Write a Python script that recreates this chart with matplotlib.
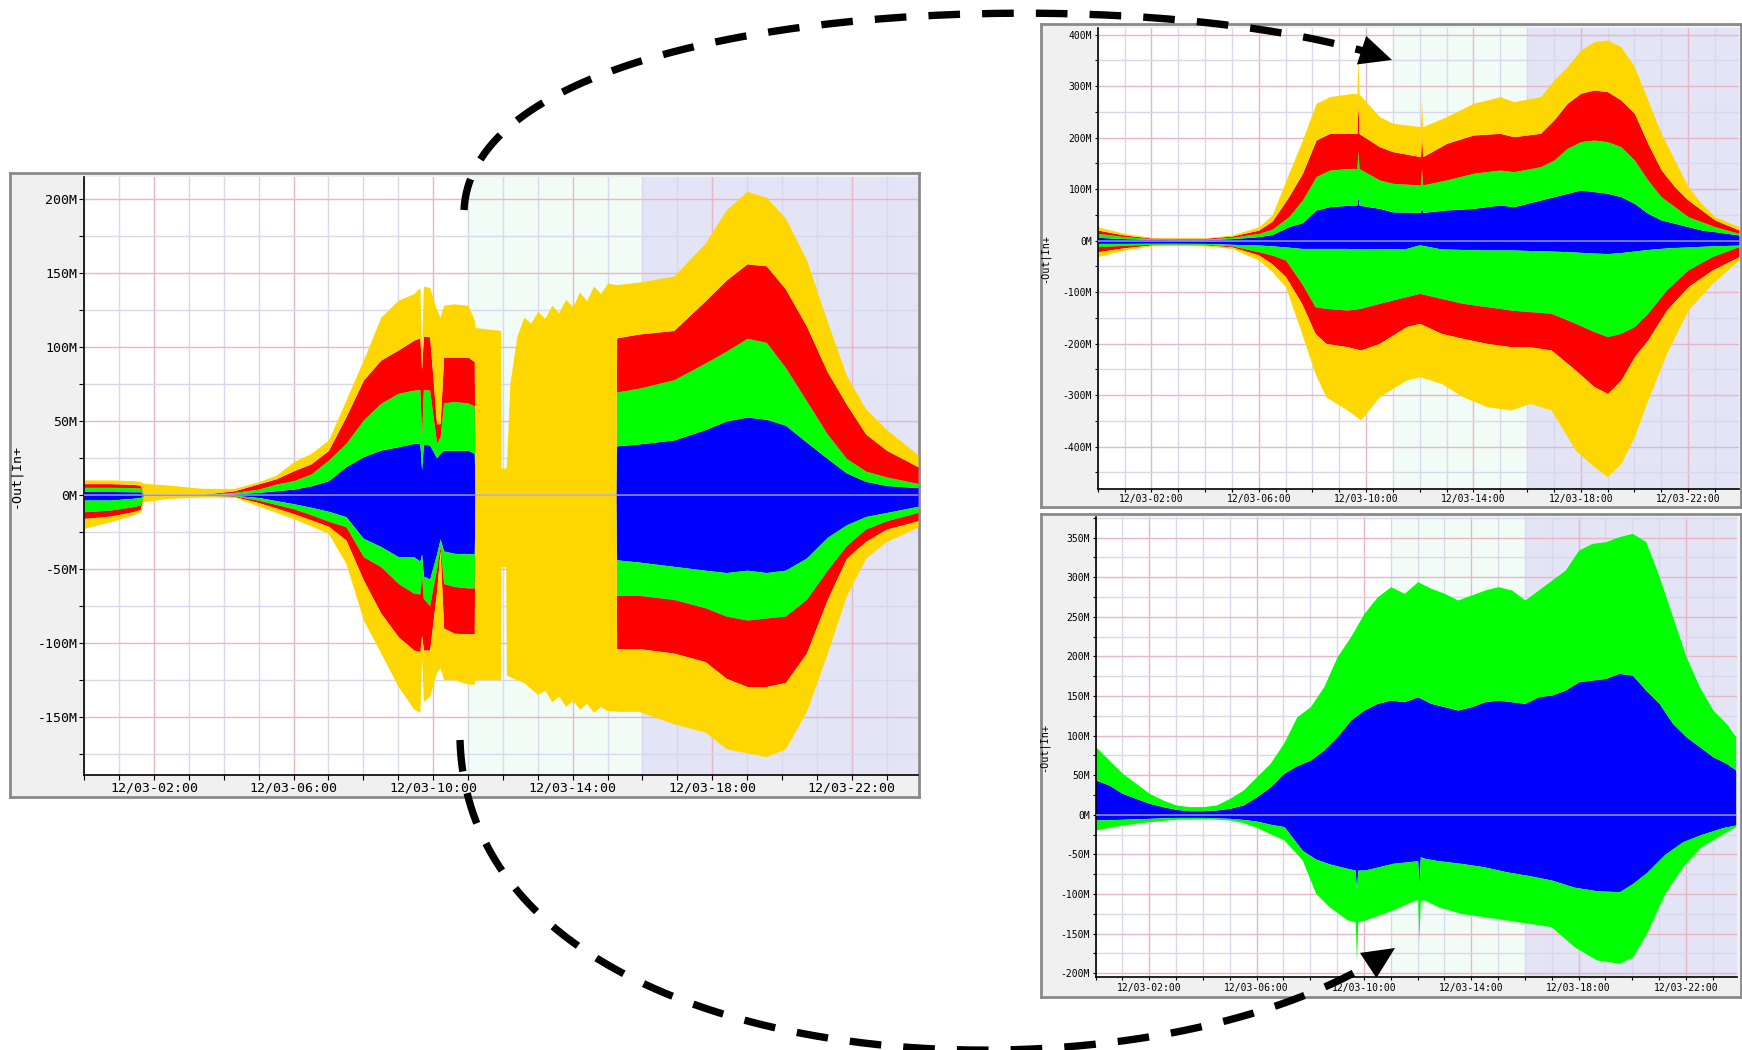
import numpy as np
import matplotlib.pyplot as plt
from matplotlib.patches import Polygon

W, H = 1742, 1050
plt.rcParams['font.family'] = ['DejaVu Sans Mono', 'DejaVu Sans']

BLUE, GREEN, RED, GOLD = '#0000ff', '#00ff00', '#ff0000', '#ffd700'

# ---------------- main chart (left), values in M ----------------
main_hours = [0, 0.75, 1.4, 1.6, 1.7, 2.4, 3.4, 4.3, 5.0, 5.5, 6.0, 6.5, 7.0, 7.5, 8.0,
              8.5, 9.0, 9.45, 9.62, 9.67, 9.72, 9.9, 10.1, 10.2, 10.3, 10.6, 11.0, 11.18,
              11.2, 11.93, 11.95, 12.08, 12.1, 12.2, 12.4, 12.6, 12.8, 13.0, 13.2, 13.4, 13.6,
              13.8, 14.0, 14.2, 14.4, 14.6, 14.8, 15.0, 15.24,
              15.26, 15.9, 16.9, 17.8, 18.4, 19.0, 19.55, 20.1, 20.7, 21.3, 21.85, 22.4, 23.0, 23.9]

main_in_blue = [2.2, 2.2, 2, 2, 0.2, 0.1, 0.1, 0.5, 1.6, 2.7, 3.8, 6, 9.5, 19, 25.7,
                30.2, 32.4, 34.7, 35, 17, 34, 33.6, 25, 28, 30, 30, 30, 28,
                0, 0, 0, 0, 0, 0, 0, 0, 0, 0, 0, 0, 0,
                0, 0, 0, 0, 0, 0, 0, 0,
                33, 34.3, 37, 44, 49.8, 52.5, 51, 47, 35.6, 24.5, 14.7, 9, 6.2, 4.8]
main_in_green = [5, 5, 4.8, 4.5, 0.3, 0.2, 0.2, 1.6, 3.8, 7.2, 9.5, 14, 23.4, 34.7, 50.5,
                 61.8, 68.5, 70.7, 71, 40, 71, 70.7, 35, 39, 62, 63, 62, 60,
                 0, 0, 0, 0, 0, 0, 0, 0, 0, 0, 0, 0, 0,
                 0, 0, 0, 0, 0, 0, 0, 0,
                 69.4, 72, 77.7, 89, 97, 105.7, 103, 86, 63.6, 41, 24.5, 16, 12, 7.6]
main_in_red = [7.5, 7.5, 7, 6.5, 0.4, 0.3, 0.3, 2.7, 7.4, 10.8, 16.2, 20.9, 30, 52.7, 77.5,
               91, 97.8, 104.5, 106, 85, 107, 106.8, 48, 48, 93, 93, 93, 90,
               0, 0, 0, 0, 0, 0, 0, 0, 0, 0, 0, 0, 0,
               0, 0, 0, 0, 0, 0, 0, 0,
               106, 108.6, 111, 131, 145, 156, 154.7, 139, 114, 83, 61, 41, 30, 18.9]
main_in_gold = [10, 10, 9.5, 9, 7.7, 6.6, 4.3, 4.3, 8.8, 13.3, 22.3, 28, 37, 64, 91,
                120, 131.5, 136, 140, 98, 141, 140, 125, 120, 128, 129, 128, 118,
                113, 111, 18, 18, 20, 75, 107, 120, 116, 124, 119, 128, 123,
                132, 127, 137, 131, 141, 136, 143, 142,
                142, 143.7, 147.8, 170, 192.5, 205, 201, 187, 159, 117, 80.5, 58, 44, 27]

main_out_blue = [-3.6, -3.6, -2.4, -2, -0.2, -0.2, -0.2, -0.4, -1.9, -4, -6.1, -8.5, -11.2, -14.9, -29.5,
                 -35, -41.9, -42, -45, -40, -55, -57, -40, -30, -38, -39.6, -40, -40,
                 0, 0, 0, 0, 0, 0, 0, 0, 0, 0, 0, 0, 0,
                 0, 0, 0, 0, 0, 0, 0, 0,
                 -44, -45.5, -48.4, -51, -52.6, -51, -52.6, -51, -42.8, -28.8, -20.3, -14.7, -12, -7.8]
main_out_green = [-11.5, -10.4, -8.1, -7, -0.4, -0.3, -0.3, -0.8, -3.7, -6.6, -9.5, -13.5, -17.9, -21.6, -41.9,
                  -48.6, -60, -66.6, -67, -55, -70, -75, -50, -35, -60, -62, -63, -63,
                  0, 0, 0, 0, 0, 0, 0, 0, 0, 0, 0, 0, 0,
                  0, 0, 0, 0, 0, 0, 0, 0,
                  -68, -68, -70.8, -76.4, -82, -84.7, -83.3, -82, -70.8, -51, -34.4, -23.2, -17.6, -12]
main_out_red = [-16, -14.4, -11.5, -10, -0.6, -0.5, -0.4, -1.2, -5.4, -9, -12.8, -17, -21.3, -30.6, -57.6,
                -80, -96, -105, -106, -95, -105, -105, -65, -38, -90, -93.6, -94, -94,
                0, 0, 0, 0, 0, 0, 0, 0, 0, 0, 0, 0, 0,
                0, 0, 0, 0, 0, 0, 0, 0,
                -104, -104, -107, -112.8, -124, -129.6, -129.6, -126.8, -107, -70.8, -42.8, -31.5, -23.2, -17.6]
main_out_gold = [-22.7, -18.2, -13.7, -12, -4.7, -2.5, -1.5, -1.8, -7.7, -12, -16.2, -21, -26.3, -46.4, -84.7,
                 -107, -129.7, -145, -147, -110, -140, -136, -120, -117, -125, -125, -128, -128,
                 -125, -125, -48.6, -48.6, -122, -123, -125, -127, -131, -135, -132, -140, -136,
                 -143, -139, -145, -141, -147, -143, -146, -146,
                 -146.4, -146.4, -154.8, -160.4, -171.6, -174.5, -177, -171.6, -146.4, -107, -68, -42.8, -31.5, -21.8]

# ---------------- top right chart ----------------
tr_in_hours = [0, 1, 2, 3, 4, 5, 6, 6.5, 7.12, 7.63, 8.14, 8.65, 9.5, 9.66, 9.7, 9.74, 10.5, 11,
               12.03, 12.07, 12.11, 13, 14, 15, 15.5, 16.5, 17, 17.5, 18, 18.5, 19, 19.5, 20,
               20.5, 21, 21.5, 22, 22.5, 23, 23.9]
tr_in_blue = [6.6, 4, 2.7, 2, 2, 4, 7.9, 12, 27.3, 35, 59.7, 66.2, 69.4, 69, 85.5, 69, 62.8, 56,
              55, 65, 55, 59.7, 62.8, 69.4, 66, 79, 85.5, 92, 98.5, 95.3, 92, 85.5, 72.5,
              53.2, 40.3, 33.8, 27.3, 20.8, 17.5, 11]
tr_in_green = [14.3, 7.9, 4, 3.4, 3.4, 6.6, 14.3, 22, 46.7, 79, 124.4, 137.3, 140.6, 140, 176, 140, 118, 111.4,
               108.2, 140, 108.2, 118, 131, 137.3, 134, 143.8, 156.7, 179.4, 192.3, 195.6, 192.3, 182.6, 156.7,
               118, 85.5, 66.2, 46.7, 37, 27.3, 14.3]
tr_in_red = [20.7, 11, 5.3, 4.8, 4.8, 9, 20.7, 38, 85.6, 130.9, 195.6, 208.5, 208.5, 208, 266.8, 208, 182.6, 173,
             163.2, 208.5, 163.2, 189, 205.3, 208.5, 202, 208.5, 234.4, 266.8, 286.2, 292.7, 289.4, 273.2, 247.4,
             189, 137.3, 105, 79, 59.7, 40.3, 20.8]
tr_in_gold = [27, 14.3, 6.6, 6, 6, 11, 27, 50, 130.9, 195.6, 266.8, 279.7, 286.2, 285, 357.4, 285, 240.9, 228,
              221.5, 273, 221.5, 240.9, 266.8, 279.7, 270, 279.7, 312, 338, 370.3, 386.5, 389.7, 376.8, 338,
              273.2, 208.5, 156.7, 105, 72.5, 46.7, 27.3]

tr_out_hours = [0, 1, 2, 3, 4, 5, 6, 6.5, 7, 7.6, 8.1, 8.5, 9.3, 9.8, 10.5, 11.5, 12, 12.8, 13.6,
                14.5, 15.4, 16.1, 16.9, 17.8, 18.5, 19, 19.5, 20, 20.5, 21.2, 22, 22.9, 23.9]
tr_out_blue = [-5.2, -5.2, -5, -5, -5.2, -7, -8.4, -10, -12, -15, -15, -15, -15, -16, -16, -15, -8, -16, -17,
               -18, -18, -19, -20, -22, -24, -25, -23, -20, -17, -14, -12, -10, -8.5]
tr_out_green = [-11.6, -9, -7, -7, -7.1, -10, -21.4, -28, -37.5, -82.8, -128.1, -131.3, -134.6, -131.3, -121.6,
                -108.7, -102.2, -112, -121.6, -128, -134.6, -137.8, -141, -160.4, -176.6, -186.3, -179.9,
                -166.9, -141, -95.7, -56.9, -31, -11.6]
tr_out_red = [-21.4, -13.6, -8.4, -8, -8.4, -12, -27.8, -45, -69.8, -121.6, -179.9, -199.3, -205.8, -212.2,
              -199.3, -166.9, -160.4, -179.9, -189.6, -199.3, -205.8, -205.8, -212.2, -251, -283.4, -296.4,
              -270.5, -225.2, -192.8, -134.6, -89.3, -56.9, -31]
tr_out_gold = [-31, -18, -10, -9, -10, -15, -37.5, -60, -89.3, -179.9, -257.5, -302.8, -328.7, -348.1, -302.8,
               -270.5, -264, -277, -302.8, -322.2, -328.7, -315.8, -328.7, -406.4, -438.7, -458.2, -432.3,
               -380.5, -309.3, -218.7, -134.6, -82.8, -37.5]

# ---------------- bottom right chart ----------------
br_in_hours = [0, 0.5, 1, 1.5, 2, 2.5, 3, 3.5, 4, 4.5, 5, 5.5, 6, 6.5, 7, 7.5, 8, 8.5, 9, 9.5,
               10, 10.5, 11, 11.5, 12, 12.5, 13, 13.5, 14, 14.5, 15, 15.5, 16, 16.5, 17, 17.5,
               18, 18.5, 19, 19.5, 20, 20.5, 21, 21.5, 22, 22.5, 23, 23.5, 23.85]
br_in_blue = [43.9, 37.5, 27, 20.7, 14.4, 10.2, 6.8, 5.1, 5.1, 6, 8.1, 12.3, 22.8, 35, 52, 62, 69, 81.6,
              98.5, 119.5, 132.2, 140.6, 144.8, 142.7, 149, 140.6, 136.4, 132.2, 136.4, 142.7, 144.8,
              142.7, 140.6, 149, 151.1, 157.4, 167.9, 170, 172.1, 178.5, 176.3, 157.4, 140.6, 115.3,
              98.5, 85.9, 73.2, 64.9, 56.5]
br_in_green = [85.9, 69, 52.3, 39.6, 27, 18.6, 12.3, 10.2, 10.2, 12.3, 20.7, 31.2, 48.1, 64.8, 90, 123.7,
               136.4, 161.6, 199.5, 224.8, 254.2, 275.3, 287.9, 279.5, 294.2, 285.8, 279.5, 271.1, 277.4,
               283.7, 287.9, 283.7, 271.1, 283.7, 296.3, 308.9, 334.2, 342.6, 344.7, 351, 355.2, 345,
               300.5, 250, 199.5, 161.6, 132.2, 115.3, 98.5]

br_out_hours = [0, 1, 2, 3, 4, 5, 5.5, 6, 6.5, 7.02, 7.7, 8.2, 8.7, 9.38, 9.67, 9.72, 9.77, 10.05,
                11.07, 11.91, 12.0, 12.05, 12.1, 12.25, 12.76, 13.6, 14.45, 15.3, 16.14, 16.98, 17.83,
                18.67, 19.52, 20.02, 20.53, 21.21, 21.88, 22.56, 23.4, 23.85]
br_out_blue = [-6.7, -5.8, -4.6, -3.4, -3.4, -4.6, -6, -8, -12, -15, -45, -56, -62, -67.7, -70, -95, -70,
               -69.8, -61.4, -58.5, -58, -91, -53, -55, -58, -61.4, -65.6, -72, -76.8, -82.4, -91.5,
               -96, -97.2, -86.6, -73, -50, -34, -25, -16, -13]
br_out_green = [-19.3, -13, -8.8, -5.8, -5, -6.7, -10, -16, -24, -31.9, -57.2, -99.3, -116.1, -132.9, -135,
                -185, -135, -132.9, -120.3, -107.7, -108, -158.2, -108, -107.7, -116.1, -124.5, -128.7,
                -132.9, -137.1, -141.4, -166.6, -183.4, -187.6, -179.2, -149.8, -99.3, -65.6, -40.3,
                -23.5, -15.1]

tick_hours = [2, 6, 10, 14, 18, 22]


def px(l, t, r, b):
    return [l / W, 1 - b / H, (r - l) / W, (b - t) / H]


def stack(ax, hours, layers):
    lower = np.zeros(len(hours))
    for vals, col in layers:
        ax.fill_between(hours, lower, vals, color=col, lw=0, zorder=2)
        lower = np.asarray(vals, dtype=float)


def panel(frame, box, ylim, step, fs, lab_fs, ylab_x, tlen):
    fr = fig.add_axes(px(*frame))
    fr.set_facecolor('#f0f0f0')
    fr.set_xticks([])
    fr.set_yticks([])
    for s in fr.spines.values():
        s.set_color('#8a8a8a')
        s.set_linewidth(2)
    fr.set_zorder(0)

    ax = fig.add_axes(px(*box))
    ax.set_zorder(1)
    ax.set_xlim(0, 23.9)
    ax.set_ylim(*ylim)
    ax.axvspan(11, 16, color='#f2fcf6', lw=0, zorder=0)
    ax.axvspan(16, 23.9, color='#e4e4f7', lw=0, zorder=0)

    major = np.arange(np.ceil(ylim[0] / step) * step, ylim[1], step)
    minor = np.arange(np.ceil(ylim[0] / (step / 2)) * (step / 2), ylim[1], step / 2)
    ax.set_yticks(major)
    ax.set_yticklabels(['%dM' % v for v in major])
    ax.set_yticks(minor, minor=True)
    ax.set_xticks(tick_hours)
    ax.set_xticklabels(['12/03-%02d:00' % h for h in tick_hours])
    ax.set_xticks(range(0, 24), minor=True)

    ax.set_axisbelow(True)
    ax.grid(which='major', color='#e8b6c4', lw=1)
    ax.grid(which='minor', color='#d8d8ec', lw=1)
    ax.tick_params(which='both', direction='out', length=tlen, width=0.8,
                   labelsize=fs, pad=1.5)
    for side in ('top', 'right'):
        ax.spines[side].set_visible(False)
    for side in ('left', 'bottom'):
        ax.spines[side].set_linewidth(1.2)
    ax.set_ylabel('-Out|In+', fontsize=lab_fs)
    ax.yaxis.set_label_coords(ylab_x, 0.5)
    return ax


fig = plt.figure(figsize=(W / 100, H / 100), dpi=100)

# main chart
ax = panel((10, 173, 919, 797), (84.3, 177, 918, 775), (-189.4, 214.7), 50, 9.5, 9.5, -0.075, 3.5)
stack(ax, main_hours, [(main_in_blue, BLUE), (main_in_green, GREEN),
                       (main_in_red, RED), (main_in_gold, GOLD)])
stack(ax, main_hours, [(main_out_blue, BLUE), (main_out_green, GREEN),
                       (main_out_red, RED), (main_out_gold, GOLD)])
ax.axhline(0, color='#a8a8ff', lw=1.2, alpha=0.8, zorder=3)

# top right chart
ax = panel((1041, 24, 1741, 507), (1097.7, 28, 1739, 488.7), (-481.5, 413), 100, 7, 7.3, -0.074, 2.5)
stack(ax, tr_in_hours, [(tr_in_blue, BLUE), (tr_in_green, GREEN),
                        (tr_in_red, RED), (tr_in_gold, GOLD)])
stack(ax, tr_out_hours, [(tr_out_blue, BLUE), (tr_out_green, GREEN),
                         (tr_out_red, RED), (tr_out_gold, GOLD)])
ax.axhline(0, color='#a8a8ff', lw=1.2, alpha=0.8, zorder=3)

# bottom right chart
ax = panel((1041, 514, 1741, 997), (1095.6, 517, 1737, 977.3), (-205.3, 375.9), 50, 7, 7.3, -0.073, 2.5)
stack(ax, br_in_hours, [(br_in_blue, BLUE), (br_in_green, GREEN)])
stack(ax, br_out_hours, [(br_out_blue, BLUE), (br_out_green, GREEN)])
ax.axhline(0, color='#a8a8ff', lw=1.2, alpha=0.8, zorder=3)

# dashed curved arrows, drawn in pixel space
ov = fig.add_axes([0, 0, 1, 1])
ov.set_xlim(0, W)
ov.set_ylim(H, 0)
ov.axis('off')
ov.set_zorder(10)
ov.patch.set_alpha(0)


def curved_arrow(p0, p1, p2, p3):
    p0, p1, p2, p3 = map(np.asarray, (p0, p1, p2, p3))
    t = np.linspace(0, 1, 400)[:, None]
    pts = (1 - t) ** 3 * p0 + 3 * (1 - t) ** 2 * t * p1 + 3 * (1 - t) * t ** 2 * p2 + t ** 3 * p3
    keep = np.hypot(*(pts - p3).T) > 24
    ov.plot(pts[keep, 0], pts[keep, 1], color='black', lw=5.3,
            dashes=(4.3, 3.0), dash_capstyle='butt')
    d = p3 - pts[~keep][0]
    d = d / np.hypot(*d)
    n = np.array([-d[1], d[0]])
    base = p3 - d * 32
    ov.add_patch(Polygon([p3, base + n * 15, base - n * 15], closed=True,
                         color='black', lw=0))


curved_arrow((464, 210), (475, -5), (1150, -25), (1392, 60))
curved_arrow((460, 740), (470, 1090), (1150, 1120), (1395, 948))

fig.savefig('out.png', dpi=100)
